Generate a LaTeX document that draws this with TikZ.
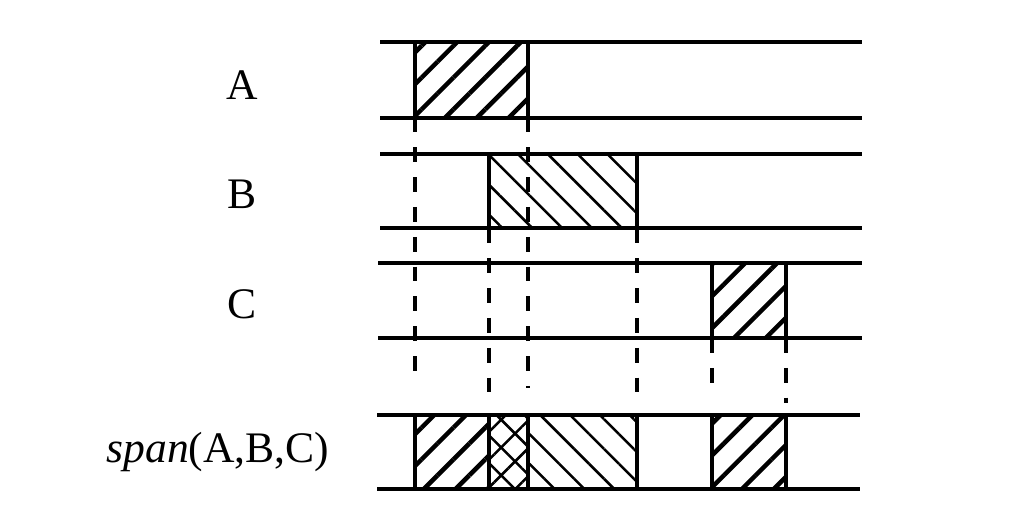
\documentclass[tikz,border=0pt]{standalone}
\usepackage{fontspec}
\setmainfont{Liberation Serif}
\usetikzlibrary{patterns.meta}

\begin{document}
\begin{tikzpicture}[
  x=0.0125cm, y=-0.0125cm,
  font=\fontsize{15.5}{18}\selectfont,
  rule/.style={line width=1.1pt},
  bar/.style={draw, line width=1.3pt, inner sep=0pt, outer sep=0pt, minimum height=0.9375cm},
  fwd/.style={bar, pattern={Lines[angle=45, distance=8pt, line width=1.6pt]}},
  bwd/.style={bar, pattern={Lines[angle=-45, distance=7.5pt, line width=0.9pt]}},
  both/.style={bar, pattern={Hatch[angle=45, distance=7pt, line width=0.9pt]}},
  guide/.style={line width=1.3pt, dash pattern=on 5.3pt off 5.3pt}
]
\useasboundingbox (0,0) rectangle (1029,531);

%% ===== labels =====
\node (la) at (242,85) {A};
\node (lb) at (242,194) {B};
\node (lc) at (242,304) {C};
\node (ls) at (218,452) {\textit{span}(A,B,C)};

%% ===== rows =====
\draw[rule] (380,42) -- (862,42);
\draw[rule] (380,118) -- (862,118);
\draw[rule] (380,154) -- (862,154);
\draw[rule] (380,228) -- (862,228);
\draw[rule] (378,263) -- (862,263);
\draw[rule] (378,338) -- (862,338);
\draw[rule] (377,415) -- (860,415);
\draw[rule] (377,489) -- (860,489);

%% ===== intervals =====
\node[fwd, minimum width=1.4125cm] (a) at (471.5,80) {};
\node[bwd, minimum width=1.85cm] (b) at (563,191) {};
\node[fwd, minimum width=0.925cm] (c) at (749,300.5) {};

\node[fwd, minimum width=0.925cm] (s1) at (452,452) {};
\node[both, minimum width=0.4875cm] (s2) at (508.5,452) {};
\node[bwd, minimum width=1.3625cm] (s3) at (582.5,452) {};
\node[fwd, minimum width=0.925cm] (s4) at (749,452) {};

%% ===== projections =====
\coordinate (pa1) at (a.south west |- 0,380);
\coordinate (pa2) at (a.south east |- 0,388);
\coordinate (pb1) at (b.south west |- 0,392);
\coordinate (pb2) at (b.south east |- 0,398);
\coordinate (pc1) at (c.south west |- 0,397);
\coordinate (pc2) at (c.south east |- 0,403);
\draw[guide] (a.south west) -- (pa1);
\draw[guide] (a.south east) -- (pa2);
\draw[guide] (b.south west) -- (pb1);
\draw[guide] (b.south east) -- (pb2);
\draw[guide] (c.south west) -- (pc1);
\draw[guide] (c.south east) -- (pc2);
\end{tikzpicture}
\end{document}
